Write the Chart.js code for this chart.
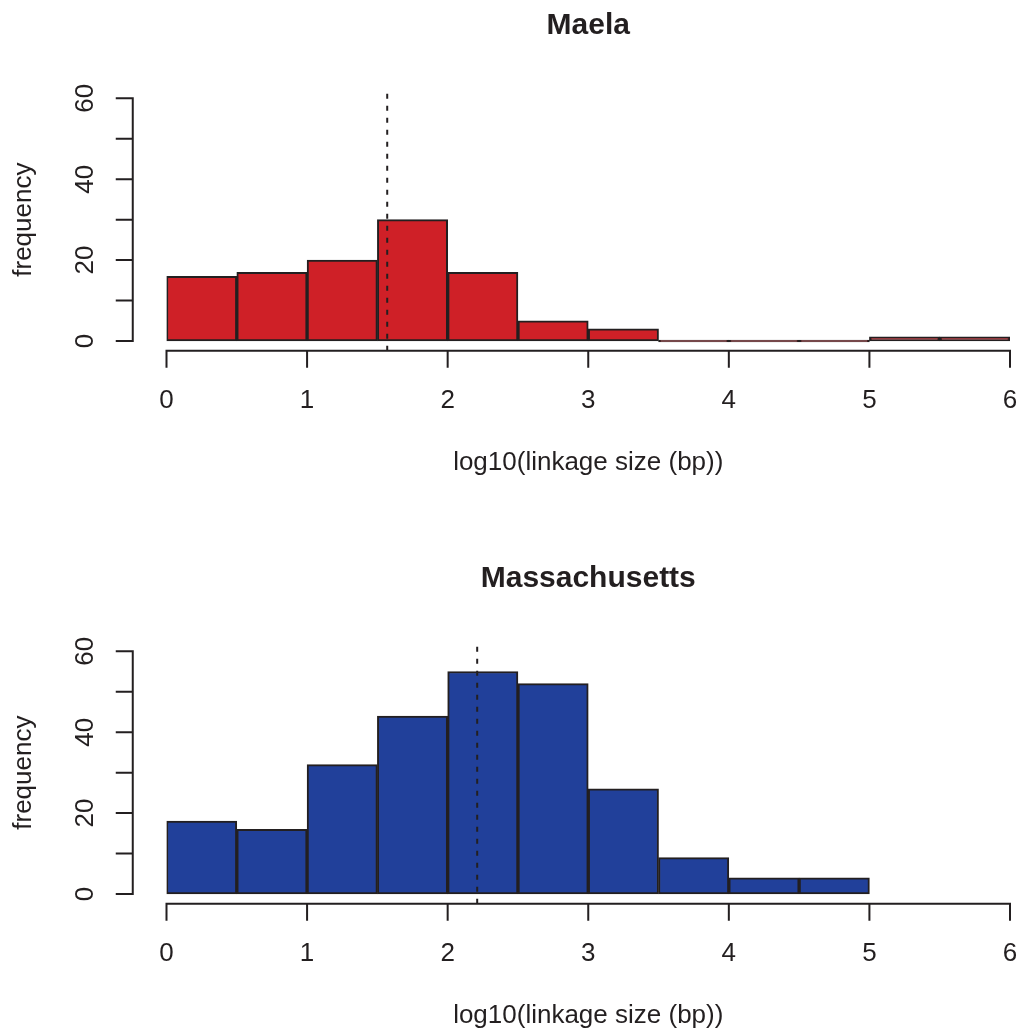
<!DOCTYPE html>
<html>
<head>
<meta charset="utf-8">
<title>Linkage size histograms</title>
<script src="https://cdn.jsdelivr.net/npm/chart.js@4.4.1/dist/chart.umd.min.js"></script>
<style>
  html, body { margin: 0; padding: 0; background: #fff; }
  #page   { position: relative; width: 1019px; height: 1032px; }
  .panel  { position: absolute; left: 0; width: 1019px; height: 479px; }
  #panelTop    { top: 0; }
  #panelBottom { top: 553px; }
</style>
</head>
<body>
<div id="page">
  <div class="panel" id="panelTop"><canvas id="maelaChart" width="1019" height="479"></canvas></div>
  <div class="panel" id="panelBottom"><canvas id="massChart" width="1019" height="479"></canvas></div>
</div>
<script>
/* ── Datos ─────────────────────────────────────────── */
const BIN_WIDTH     = 0.5;
const X_TICKS       = [0, 1, 2, 3, 4, 5, 6];
const Y_TICKS       = [0, 20, 40, 60];
const Y_MINOR_TICKS = [0, 10, 20, 30, 40, 50, 60];

const MAELA_BINS   = [0, 0.5, 1, 1.5, 2, 2.5, 3, 3.5, 4, 4.5, 5, 5.5];
const MAELA_COUNTS = [16, 17, 20, 30, 17, 5, 3, 0, 0, 0, 1, 1];
const MAELA_MEDIAN = 1.57;

const MASS_BINS    = [0, 0.5, 1, 1.5, 2, 2.5, 3, 3.5, 4, 4.5];
const MASS_COUNTS  = [18, 16, 32, 44, 55, 52, 26, 9, 4, 4];
const MASS_MEDIAN  = 2.21;

// rango "usr" de R (4% extra)
const X_USR_MIN = -0.24;
const Y_USR_MIN = -2.4;
const Y_USR_MAX = 62.4;

const INK       = "#231f20";
const FONT      = "'Liberation Sans', Arial, Helvetica, sans-serif";
const TICK_LEN  = 16;

/* ── Ejes estilo R ─────────────────────────────────── */
const rAxes = {
  id: "rAxes",
  afterDraw(chart) {
    const { ctx, scales: { x, y } } = chart;
    ctx.save();
    ctx.strokeStyle = INK;
    ctx.lineWidth = 2;
    ctx.lineCap = "square";

    const axY = y.getPixelForValue(Y_USR_MIN);
    ctx.beginPath();
    ctx.moveTo(x.getPixelForValue(X_TICKS[0]), axY);
    ctx.lineTo(x.getPixelForValue(X_TICKS[X_TICKS.length - 1]), axY);
    X_TICKS.forEach(v => {
      const px = x.getPixelForValue(v);
      ctx.moveTo(px, axY);
      ctx.lineTo(px, axY + TICK_LEN);
    });

    const axX = x.getPixelForValue(X_USR_MIN);
    ctx.moveTo(axX, y.getPixelForValue(Y_MINOR_TICKS[0]));
    ctx.lineTo(axX, y.getPixelForValue(Y_MINOR_TICKS[Y_MINOR_TICKS.length - 1]));
    Y_MINOR_TICKS.forEach(v => {
      const py = y.getPixelForValue(v);
      ctx.moveTo(axX, py);
      ctx.lineTo(axX - TICK_LEN, py);
    });
    ctx.stroke();
    ctx.restore();
  }
};

/* ── Histograma ────────────────────────────────────── */
function buildHistogram(canvasId, title, bins, counts, median, fill) {
  const bars = bins.map((b, i) => ({ x: b + BIN_WIDTH / 2, y: counts[i] }));

  return new Chart(document.getElementById(canvasId), {
    type: "bar",
    data: {
      datasets: [
        {
          type: "line",
          data: [{ x: median, y: Y_USR_MIN }, { x: median, y: Y_USR_MAX }],
          borderColor: INK,
          borderWidth: 2,
          borderDash: [5, 7],
          pointRadius: 0,
          order: 0,
        },
        {
          type: "bar",
          data: bars,
          backgroundColor: fill,
          borderColor: INK,
          borderWidth: 2,
          borderSkipped: false,
          minBarLength: 2,
          barPercentage: 1,
          categoryPercentage: 1,
          order: 1,
        }
      ]
    },
    options: {
      responsive: false,
      animation: false,
      layout: { padding: { top: 0, left: 0, right: 9, bottom: 0 } },
      plugins: {
        legend: { display: false },
        tooltip: { enabled: false },
        title: {
          display: true,
          fullSize: false,
          text: title,
          color: INK,
          font: { family: FONT, size: 30, weight: "bold" },
          padding: { top: 8, bottom: 44.6 },
        }
      },
      scales: {
        x: {
          type: "linear",
          min: 0,
          max: 6,
          offset: false,
          grid: { display: false, drawTicks: false, offset: false },
          border: { display: false },
          afterBuildTicks: s => { s.ticks = X_TICKS.map(v => ({ value: v })); },
          afterFit: s => {
            s.height = 128.3;
            s.paddingLeft = 8;
            s.paddingRight = 8;
          },
          ticks: {
            color: INK,
            padding: 35,
            autoSkip: false,
            maxRotation: 0,
            font: { family: FONT, size: 26 },
          },
          title: {
            display: true,
            text: "log10(linkage size (bp))",
            color: INK,
            font: { family: FONT, size: 26 },
            padding: { top: 0, bottom: 1 },
          }
        },
        y: {
          type: "linear",
          min: Y_USR_MIN,
          max: Y_USR_MAX,
          grid: { display: false, drawTicks: false },
          border: { display: false },
          afterBuildTicks: s => { s.ticks = Y_TICKS.map(v => ({ value: v })); },
          afterFit: s => {
            s.width = 166.5;
            s.paddingTop = 0;
            s.paddingBottom = 0;
          },
          ticks: {
            color: INK,
            padding: 66,
            crossAlign: "center",
            minRotation: 90,
            maxRotation: 90,
            font: { family: FONT, size: 26 },
          },
          title: {
            display: true,
            text: "frequency",
            color: INK,
            font: { family: FONT, size: 26 },
            padding: { top: 8, bottom: 0 },
          }
        }
      }
    },
    plugins: [rAxes]
  });
}

buildHistogram("maelaChart", "Maela",         MAELA_BINS, MAELA_COUNTS, MAELA_MEDIAN, "#cf2027");
buildHistogram("massChart",  "Massachusetts", MASS_BINS,  MASS_COUNTS,  MASS_MEDIAN,  "#21409a");
</script>
</body>
</html>
